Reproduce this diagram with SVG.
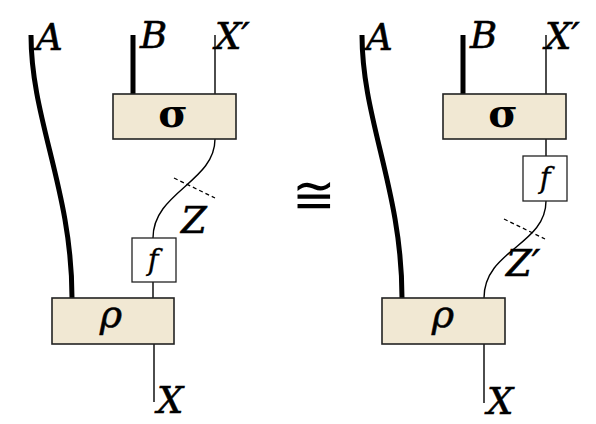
<svg xmlns="http://www.w3.org/2000/svg" width="596" height="424" viewBox="0 0 596 424">
<style>
.box{fill:#F1E8D3;stroke:#222;stroke-width:1.6}
.fbox{fill:#fff;stroke:#222;stroke-width:1.3}
.thick{fill:none;stroke:#000;stroke-width:5}
.thin{fill:none;stroke:#000;stroke-width:1.4}
.dash{fill:none;stroke:#000;stroke-width:1.3;stroke-dasharray:4 3}
.lbl{font-family:"DejaVu Serif",serif;font-style:italic;font-size:37px;fill:#000;stroke:#000;stroke-width:0.6}
.sig{font-family:"DejaVu Serif",serif;font-weight:bold;font-size:40px;fill:#000;text-anchor:middle}
.rho{font-family:"DejaVu Serif",serif;font-style:italic;font-size:38px;fill:#000;text-anchor:middle;stroke:#000;stroke-width:0.5}
.fl{font-family:"DejaVu Serif",serif;font-style:italic;font-size:29px;fill:#000;text-anchor:middle;stroke:#000;stroke-width:0.3}
</style>
<rect width="596" height="424" fill="#fff"/>
<g id="connectors">
<path class="thick" d="M31,35 C31,120 72,190 72,298"/>
<path class="thick" d="M133,35 L133,94"/>
<path class="thin" d="M215,35 L215,94"/>
<path class="thin" d="M215,139 C215,182 153,192 153,238"/>
<path class="dash" d="M174,178 L215,198"/>
<path class="thin" d="M153,282 L153,298"/>
<path class="thin" d="M154,344 L154,402"/>
<path class="thick" d="M362,35 C362,120 402,190 402,298"/>
<path class="thick" d="M463,35 L463,94"/>
<path class="thin" d="M546,35 L546,94"/>
<path class="thin" d="M546,139 L546,156"/>
<path class="thin" d="M546,201 C546,245 484,250 484,298"/>
<path class="dash" d="M504,219 L545,239"/>
<path class="thin" d="M484,344 L484,403"/>
</g>
<g id="sigma-left"><rect class="box" x="113" y="94" width="123" height="45"/><text class="sig" x="173" y="127">σ</text></g>
<g id="f-left"><rect class="fbox" x="132" y="238" width="44" height="44"/><text class="fl" x="153" y="270">f</text></g>
<g id="rho-left"><rect class="box" x="52" y="298" width="122" height="46"/><text class="rho" x="111" y="327">ρ</text></g>
<g id="sigma-right"><rect class="box" x="443" y="94" width="123" height="45"/><text class="sig" x="503" y="127">σ</text></g>
<g id="f-right"><rect class="fbox" x="523" y="156" width="44" height="45"/><text class="fl" x="545" y="188">f</text></g>
<g id="rho-right"><rect class="box" x="382" y="298" width="123" height="46"/><text class="rho" x="443" y="327">ρ</text></g>
<g id="labels">
<text class="lbl" x="36" y="50">A</text>
<text class="lbl" x="140" y="48">B</text>
<text class="lbl" x="215" y="49">X′</text>
<text class="lbl" x="181" y="233">Z</text>
<text class="lbl" x="157" y="413">X</text>
<text class="lbl" x="366" y="50">A</text>
<text class="lbl" x="470" y="48">B</text>
<text class="lbl" x="545" y="49">X′</text>
<text class="lbl" x="506" y="276">Z′</text>
<text class="lbl" x="487" y="414">X</text>
</g>
<g id="iso"><text x="314" y="213" style="font-family:'DejaVu Serif',serif;font-size:52px;text-anchor:middle">≅</text></g>
</svg>
